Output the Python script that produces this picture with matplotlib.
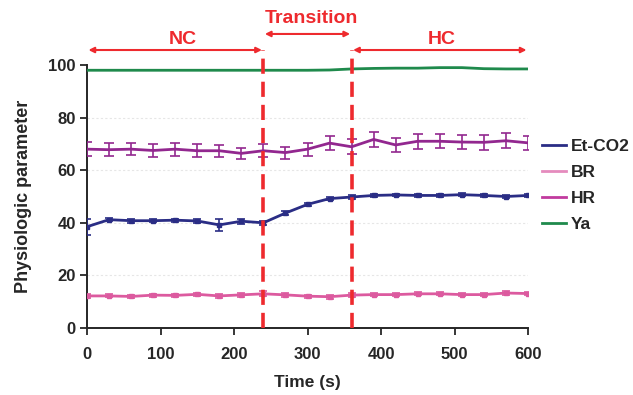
import matplotlib
matplotlib.use("Agg")
import matplotlib.pyplot as plt

time_s = [0, 30, 60, 90, 120, 150, 180, 210, 240, 270, 300, 330, 360, 390, 420, 450, 480, 510, 540, 570, 600]

et_co2 = [38.5, 41.2, 40.8, 40.8, 41.0, 40.7, 39.2, 40.6, 40.0, 43.7, 47.0, 49.2, 49.8, 50.4, 50.6, 50.4, 50.4, 50.7, 50.4, 50.0, 50.4]
et_co2_err = [3.0, 0.6, 0.7, 0.6, 0.6, 0.6, 2.4, 1.0, 0.7, 0.6, 0.6, 0.6, 0.6, 0.5, 0.5, 0.5, 0.5, 0.5, 0.5, 0.6, 0.6]

br = [12.2, 12.2, 12.0, 12.5, 12.4, 12.8, 12.2, 12.6, 13.0, 12.6, 12.1, 11.9, 12.5, 12.7, 12.7, 13.0, 13.0, 12.7, 12.7, 13.3, 13.1]
br_err = [0.8, 0.6, 0.7, 0.6, 0.6, 0.6, 0.7, 0.7, 0.9, 0.7, 0.6, 0.7, 0.8, 0.6, 0.6, 0.6, 0.6, 0.6, 0.6, 0.7, 0.7]

hr = [68.0, 67.8, 68.0, 67.5, 68.0, 67.4, 67.4, 66.4, 67.4, 66.7, 68.0, 70.3, 68.9, 71.7, 69.6, 71.0, 71.0, 70.7, 70.6, 71.2, 70.4]
hr_err = [2.6, 2.4, 2.4, 2.3, 2.5, 2.4, 2.3, 2.2, 2.4, 2.3, 2.5, 2.8, 2.8, 2.8, 2.6, 2.8, 2.7, 2.7, 2.8, 2.8, 2.6]

ya = [98.0, 98.0, 98.0, 98.0, 98.0, 98.0, 98.0, 98.0, 98.0, 98.0, 98.0, 98.1, 98.5, 98.7, 98.8, 98.8, 99.0, 99.0, 98.6, 98.5, 98.5]

phase_bounds = [0, 240, 360, 600]
phase_labels = ["NC", "Transition", "HC"]

c_et = "#2a2d85"
c_br = "#dc5a9f"
c_hr = "#92278f"
c_ya = "#1f8a4c"
c_red = "#ee2a2e"
c_txt = "#262626"

plt.rcParams["font.family"] = ["Liberation Sans", "DejaVu Sans"]
plt.rcParams["font.weight"] = "bold"

fig = plt.figure(figsize=(6.33, 3.95), dpi=100)
ax = fig.add_axes([87/633, 1-328/395, 441/633, 263/395])

for v in [20, 40, 60, 80]:
    ax.axhline(v, color="#e6e6e6", lw=0.8, ls=(0, (2, 2)), zorder=0)

ax.errorbar(time_s, et_co2, yerr=et_co2_err, color=c_et, lw=2, marker="s", ms=3.5,
            capsize=3, elinewidth=1.2, capthick=1.2, label="Et-CO2", zorder=3)
ax.errorbar(time_s, br, yerr=br_err, color=c_br, lw=2, marker="s", ms=3.5,
            capsize=3, elinewidth=1.2, capthick=1.2, label="BR", zorder=3)
ax.errorbar(time_s, hr, yerr=hr_err, color=c_hr, lw=2, marker=None,
            capsize=3.5, elinewidth=1.2, capthick=1.2, label="HR", zorder=3)
ax.plot(time_s, ya, color=c_ya, lw=2, label="Ya", zorder=3)

# phase boundaries
for xb in phase_bounds[1:3]:
    ax.plot([xb, xb], [0, 105.7], color=c_red, lw=2.6, ls=(0, (4.2, 2.2)), clip_on=False, zorder=4)

arrow_y = [105.7, 111.8, 105.7]
text_x = [130, 305, 483]
text_y = [109.8, 117.8, 109.8]
for i, lab in enumerate(phase_labels):
    x0, x1 = phase_bounds[i], phase_bounds[i+1]
    ax.annotate("", xy=(x0 + 2, arrow_y[i]), xytext=(x1 - 2, arrow_y[i]),
                arrowprops=dict(arrowstyle="<|-|>", color=c_red, lw=1.5,
                                mutation_scale=8, shrinkA=0, shrinkB=0),
                annotation_clip=False)
    ax.text(text_x[i], text_y[i], lab, color=c_red, fontsize=14, fontweight="bold",
            ha="center", va="center", clip_on=False)

ax.set_xlim(0, 600)
ax.set_ylim(0, 100)
ax.set_xticks([0, 100, 200, 300, 400, 500, 600])
ax.set_yticks([0, 20, 40, 60, 80, 100])
ax.tick_params(axis="both", labelsize=12, colors=c_txt, width=1.3, length=5, direction="out")
ax.tick_params(axis="x", pad=9)
ax.tick_params(axis="y", pad=3)
for lbl in ax.get_xticklabels() + ax.get_yticklabels():
    lbl.set_fontweight("bold")
ax.spines["top"].set_visible(False)
ax.spines["right"].set_visible(False)
ax.spines["left"].set_linewidth(1.4)
ax.spines["bottom"].set_linewidth(1.4)
ax.spines["left"].set_color(c_txt)
ax.spines["bottom"].set_color(c_txt)

ax.set_xlabel("Time (s)", fontsize=12.5, fontweight="bold", color=c_txt, labelpad=9)
ax.set_ylabel("Physiologic parameter", fontsize=13, fontweight="bold", color=c_txt, labelpad=12)

handles = [plt.Line2D([], [], color=c, lw=2) for c in [c_et, "#e58bbd", "#c13a9e", c_ya]]
leg = fig.legend(handles, ["Et-CO2", "BR", "HR", "Ya"], loc="upper left",
                 bbox_to_anchor=(542/633, 1-139/395), frameon=False, fontsize=12.5,
                 handlelength=1.4, handletextpad=0.25, labelspacing=0.62, borderaxespad=0,
                 borderpad=0)
for t in leg.get_texts():
    t.set_fontweight("bold")
    t.set_color(c_txt)

fig.savefig("out.png", dpi=100)
